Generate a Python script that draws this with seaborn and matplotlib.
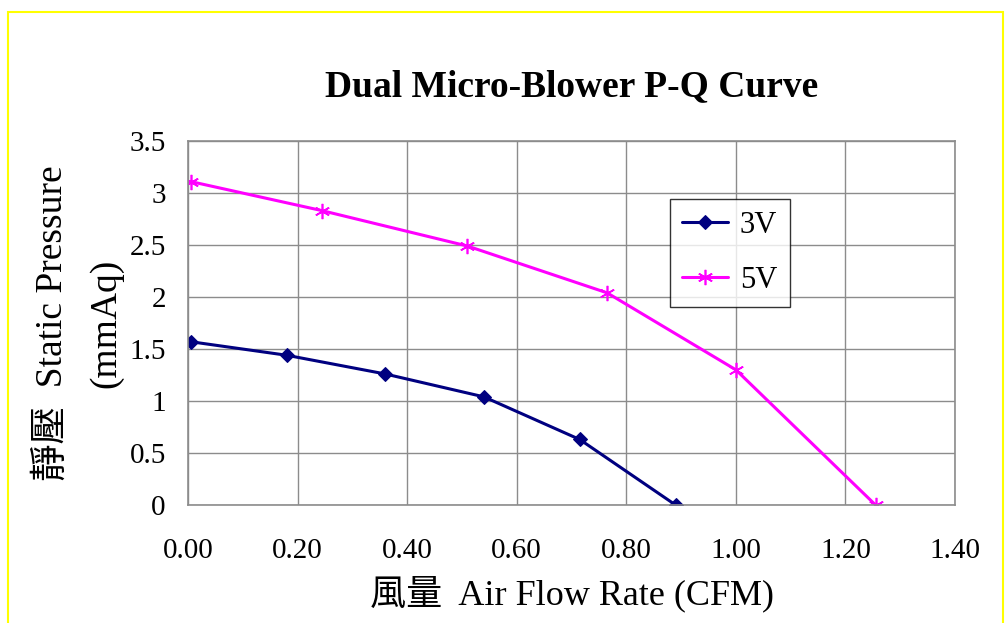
import matplotlib.pyplot as plt
import matplotlib.patches as mpatches
import seaborn as sns

# Data
flow_3v = [0.005, 0.18, 0.36, 0.54, 0.715, 0.89]
pres_3v = [1.57, 1.44, 1.26, 1.04, 0.63, 0.0]
flow_5v = [0.005, 0.245, 0.51, 0.765, 1.0, 1.255]
pres_5v = [3.11, 2.83, 2.49, 2.04, 1.30, 0.0]
series_names = ["3V", "5V"]
x_ticks = [0.0, 0.2, 0.4, 0.6, 0.8, 1.0, 1.2, 1.4]
y_ticks = [0, 0.5, 1, 1.5, 2, 2.5, 3, 3.5]

if __name__ == "__main__":
    sns.set_theme(style="white")
    plt.rcParams["font.family"] = ["Liberation Serif", "Noto Sans CJK TC"]
    plt.rcParams["text.color"] = "black"
    plt.rcParams["axes.labelcolor"] = "black"

    fig = plt.figure(figsize=(10.06, 6.23), dpi=100)
    fig.patch.set_facecolor("white")
    # yellow chart-area border like the Excel export
    fig.patches.append(mpatches.Rectangle(
        (8 / 1006, -0.05), (1003 - 8) / 1006, 1.05 - 12 / 623,
        transform=fig.transFigure, fill=False, edgecolor="#FFFF00", linewidth=1.5))

    ax = fig.add_axes([188 / 1006, 1 - 505 / 623, (955 - 188) / 1006, (505 - 141) / 623])

    sns.lineplot(x=flow_3v, y=pres_3v, color="#000080", marker="D", markersize=7,
                 markeredgecolor="#000080", linewidth=2.2, sort=False,
                 label=series_names[0], ax=ax)
    sns.lineplot(x=flow_5v, y=pres_5v, color="#FF00FF", marker=(6, 2, 0), markersize=11,
                 markeredgecolor="#FF00FF", markeredgewidth=1.2, linewidth=2.2,
                 sort=False, label=series_names[1], ax=ax)

    ax.set_xlim(0, 1.4)
    ax.set_ylim(0, 3.5)
    ax.set_xticks(x_ticks)
    ax.set_xticklabels([f"{v:.2f}" for v in x_ticks])
    ax.set_yticks(y_ticks)
    ax.set_yticklabels([f"{v:g}" for v in y_ticks])
    ax.tick_params(axis="both", length=0, labelsize=21, colors="black")
    ax.tick_params(axis="x", pad=24)
    ax.tick_params(axis="y", pad=16)
    ax.grid(True, color="#8c8c8c", linewidth=1.0)
    for s in ax.spines.values():
        s.set_color("#8c8c8c")
        s.set_linewidth(1.2)

    ax.set_xlabel("風量  Air Flow Rate (CFM)", fontsize=26, labelpad=8)
    ax.set_ylabel("靜壓  Static Pressure\n(mmAq)", fontsize=27, labelpad=4,
                  linespacing=1.75)
    ax.set_title("Dual Micro-Blower P-Q Curve", fontsize=27, fontweight="bold", pad=32)

    handles, labels = ax.get_legend_handles_labels()
    leg = ax.legend(handles, labels, loc="upper left", bbox_to_anchor=(0.628, 0.841),
                    borderaxespad=0, fontsize=22, frameon=True, fancybox=False,
                    handlelength=1.5, labelspacing=0.85, borderpad=0.4,
                    handletextpad=0.4)
    leg.get_frame().set_edgecolor("black")
    leg.get_frame().set_linewidth(1.0)

    fig.savefig("out.png", dpi=100)
